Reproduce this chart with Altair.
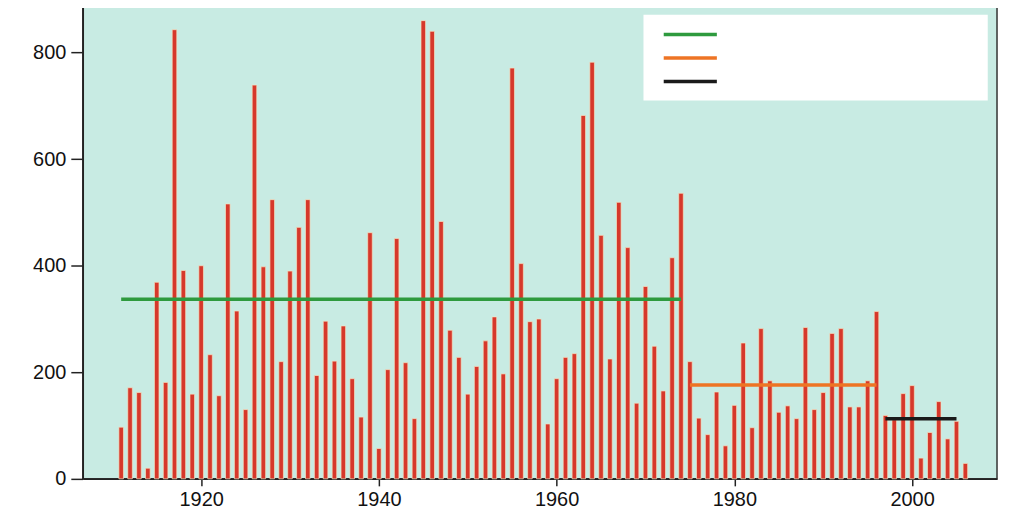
import altair as alt
import pandas as pd

years = list(range(1911, 2007))
values = [
    97, 171, 162, 20, 369, 181, 843, 391, 159, 400,
    233, 156, 516, 315, 130, 739, 398, 524, 220, 390,
    472, 524, 194, 296, 221, 287, 188, 116, 462, 57,
    205, 451, 218, 113, 860, 840, 483, 279, 228, 159,
    211, 259, 304, 197, 771, 404, 295, 300, 103, 188,
    228, 235, 682, 782, 457, 225, 519, 434, 142, 361,
    249, 165, 415, 536, 220, 114, 83, 163, 62, 138,
    255, 96, 282, 184, 125, 137, 113, 284, 130, 162,
    273, 282, 135, 135, 184, 314, 119, 111, 160, 175,
    39, 87, 145, 75, 108, 29,
]

seg_start = [1911, 1975, 1997]
seg_end = [1974, 1996, 2005]
seg_mean = [337, 176, 113]
seg_color = ["#2e9a3e", "#ee7424", "#1a1a1a"]
seg_name = ["a", "b", "c"]

bars_df = pd.DataFrame({"year": years, "value": values})
seg_df = pd.DataFrame({"start": seg_start, "end": seg_end, "mean": seg_mean,
                       "name": seg_name, "color": seg_color})

W, H = 917, 478
xscale = alt.Scale(domain=[1907.24, 2009.0], nice=False, zero=False)
yscale = alt.Scale(domain=[0, 894.4], nice=False)

bars = alt.Chart(bars_df).mark_bar(size=4.6, color="#d6382b", stroke="#f4e3c4",
                                     strokeWidth=0.7).encode(
    x=alt.X("year:Q", scale=xscale,
            axis=alt.Axis(values=[1920, 1940, 1960, 1980, 2000], format="d",
                          title=None, grid=False, tickSize=7, tickColor="#222",
                          domainColor="#222", domainWidth=1.5, tickWidth=1.5,
                          labelFontSize=20, labelFont="Liberation Sans",
                          labelColor="#111", labelPadding=4)),
    y=alt.Y("value:Q", scale=yscale,
            axis=alt.Axis(values=[0, 200, 400, 600, 800], title=None, grid=False,
                          tickSize=12, tickColor="#222", tickWidth=1.5,
                          domainColor="#222", domainWidth=1.5,
                          labelFontSize=20, labelFont="Liberation Sans",
                          labelColor="#111", labelPadding=5)),
)

segs = alt.Chart(seg_df).mark_rule(strokeWidth=3.5).encode(
    x=alt.X("start:Q", scale=xscale), x2="end:Q",
    y=alt.Y("mean:Q", scale=yscale),
    color=alt.Color("color:N", scale=None, legend=None),
)

main = alt.layer(bars, segs)

legend_box = alt.Chart(seg_df).mark_rect(color="white").encode(
    x=alt.value(562.4), x2=alt.value(907.7), y=alt.value(12.5), y2=alt.value(98.5)
).transform_filter("datum.name == 'a'")

legend_lines = alt.Chart(seg_df).transform_calculate(
    idx="indexof(['a','b','c'], datum.name)"
).mark_rule(strokeWidth=3.5).encode(
    x=alt.value(582.7), x2=alt.value(636),
    y=alt.Y("idx:Q", scale=alt.Scale(domain=[0, 2], range=[32.2, 79.5], nice=False, zero=False), axis=None),
    color=alt.Color("color:N", scale=None, legend=None),
)

legend = alt.layer(legend_box, legend_lines)

chart = alt.layer(main, legend).resolve_scale(y="independent").properties(
    width=W, height=H,
    autosize=alt.AutoSizeParams(type="none"),
    padding={"left": 75, "top": -6.5, "right": 4, "bottom": 50},
).configure_view(fill="#c8ebe3", stroke="#333", strokeWidth=1.5)

chart.save("out.html", embed_options={"renderer": "svg", "actions": False})
